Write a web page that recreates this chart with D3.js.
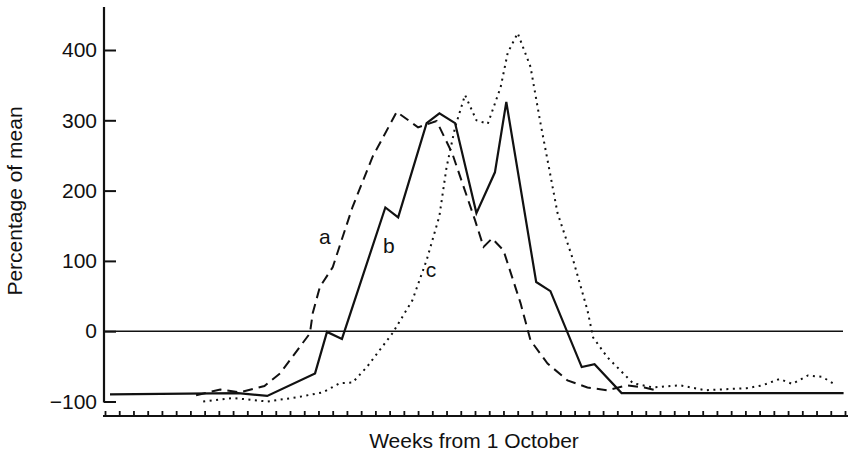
<!DOCTYPE html>
<html>
<head>
    <meta charset='utf-8'>
    <title>Percentage of mean by week</title>
    <style>
    body {
      margin: 0;
      background: #fff;
    }
    text {
      font-family: 'Liberation Sans', Arial, sans-serif;
      fill: #111;
    }
    .axis path, .axis line {
      stroke: #111;
    }
    </style>
    <script src='https://d3js.org/d3.v7.min.js'></script>
</head>
<body>
<div id="container"></div>
<script>
  // ******* Data *******
  // weeks from 1 October (fractional where the vertex falls between ticks)
  const aWeeks = [6.4, 8.1, 9.5, 11.2, 12.3, 14.4, 14.6, 15.1, 16.0, 17.4, 18.8, 20.5, 22.0, 23.3,
                  24.4, 26.0, 26.6, 27.2, 28.0, 29.2, 29.9, 31.1, 32.5, 33.9, 35.3, 36.7, 37.9, 38.7];
  const aVals  = [-91, -83, -87, -78, -60, -3, 26, 63, 91, 177, 248, 312, 290, 299,
                  253, 158, 120, 132, 115, 40, -13, -46, -70, -80, -84, -77, -80, -84];

  const bWeeks = [0.35, 9.35, 11.4, 14.76, 15.6, 16.65, 19.7, 20.6, 22.6, 23.5, 24.6, 26.1, 27.4,
                  28.2, 30.3, 31.3, 33.5, 34.4, 36.3, 51.9];
  const bVals  = [-90, -88, -92, -60, -1, -11, 176, 162, 296, 310, 296, 168, 226,
                  326, 70, 57, -51, -47, -88, -88];

  const cWeeks = [6.9, 9.0, 11.4, 13.5, 15.3, 16.5, 17.4, 18.4, 20.2, 21.6, 22.6, 23.5, 24.0, 24.6,
                  25.3, 26.1, 26.9, 27.8, 28.3, 29.0, 29.9, 30.6, 31.1, 31.8, 32.9, 33.9, 34.3, 35.3,
                  37.1, 38.5, 40.4, 42.2, 45.1, 46.2, 47.4, 48.3, 49.4, 50.4, 51.4];
  const cVals  = [-100, -95, -100, -94, -87, -74, -73, -51, -3, 44, 101, 164, 233, 290,
                  336, 300, 295, 347, 396, 424, 376, 296, 243, 168, 101, 30, -9, -37,
                  -74, -80, -77, -84, -81, -77, -68, -75, -63, -65, -77];

  const yTicks = [-100, 0, 100, 200, 300, 400];
  const nWeeks = 52;

  const seriesLabels = [
    {name: "a", week: 15.45, value: 134},
    {name: "b", week: 19.95, value: 121},
    {name: "c", week: 22.9, value: 87}
  ];

  // ******* Constants *******
  const width = 849,
        height = 458,
        fontSize = "21px";

  const svg = d3.select("#container").append("svg")
                .attr("width", width)
                .attr("height", height)
                .style("display", "block");

  const xScale = d3.scaleLinear()
                   .domain([0, nWeeks])
                   .range([105, 845]);
  const yScale = d3.scaleLinear()
                   .domain([-100, 400])
                   .range([401.5, 50]);

  // Y axis: ticks point inward, labels on the left
  const yAxis = svg.append("g")
      .attr("class", "axis")
      .attr("transform", `translate(104, 0)`)
      .call(d3.axisLeft(yScale).tickValues(yTicks).tickSizeInner(-12).tickSizeOuter(0).tickPadding(7));
  yAxis.select(".domain").remove();
  yAxis.selectAll("line").attr("stroke-width", 2);
  yAxis.selectAll("text").style("font-size", fontSize).attr("fill", "#111");
  yAxis.append("line")
      .attr("x1", 0).attr("x2", 0)
      .attr("y1", yScale(-100) + 1).attr("y2", 7)
      .attr("stroke", "#111")
      .attr("stroke-width", 2.2);

  // X axis: separate baseline with small weekly ticks pointing up
  const xAxis = svg.append("g")
      .attr("class", "axis")
      .attr("transform", `translate(0, 416)`)
      .call(d3.axisBottom(xScale).ticks(nWeeks).tickSizeInner(-5).tickSizeOuter(0).tickFormat(""));
  xAxis.select(".domain").attr("stroke-width", 2.2).attr("d", `M103,0H848`);
  xAxis.selectAll("line").attr("stroke-width", 1.8);

  // zero reference line
  svg.append("line")
      .attr("x1", 104).attr("x2", xScale(nWeeks) - 2)
      .attr("y1", yScale(0)).attr("y2", yScale(0))
      .attr("stroke", "#111")
      .attr("stroke-width", 1.6);

  // axis captions
  svg.append("text")
      .attr("transform", `translate(22, 201) rotate(-90)`)
      .attr("text-anchor", "middle")
      .style("font-size", fontSize)
      .text("Percentage of mean");
  svg.append("text")
      .attr("x", 474)
      .attr("y", 448)
      .attr("text-anchor", "middle")
      .style("font-size", fontSize)
      .text("Weeks from 1 October");

  // ******* Lines *******
  const line = d3.line()
                 .x(function(d){ return xScale(d[0]) })
                 .y(function(d){ return yScale(d[1]) });

  svg.append("path")
      .datum(d3.zip(cWeeks, cVals))
      .attr("d", line)
      .attr("fill", "none")
      .attr("stroke", "#111")
      .attr("stroke-width", 2)
      .attr("stroke-dasharray", "2,4.5");

  svg.append("path")
      .datum(d3.zip(aWeeks, aVals))
      .attr("d", line)
      .attr("fill", "none")
      .attr("stroke", "#111")
      .attr("stroke-width", 2)
      .attr("stroke-dasharray", "10,6");

  svg.append("path")
      .datum(d3.zip(bWeeks, bVals))
      .attr("d", line)
      .attr("fill", "none")
      .attr("stroke", "#111")
      .attr("stroke-width", 2.2)
      .attr("stroke-linejoin", "miter");

  svg.selectAll(".serieslabel")
      .data(seriesLabels)
      .enter()
      .append("text")
      .attr("class", "serieslabel")
      .attr("x", function(d){ return xScale(d.week) })
      .attr("y", function(d){ return yScale(d.value) })
      .attr("dy", "0.35em")
      .attr("text-anchor", "middle")
      .style("font-size", fontSize)
      .text(function(d){ return d.name });
</script>
</body>
</html>
